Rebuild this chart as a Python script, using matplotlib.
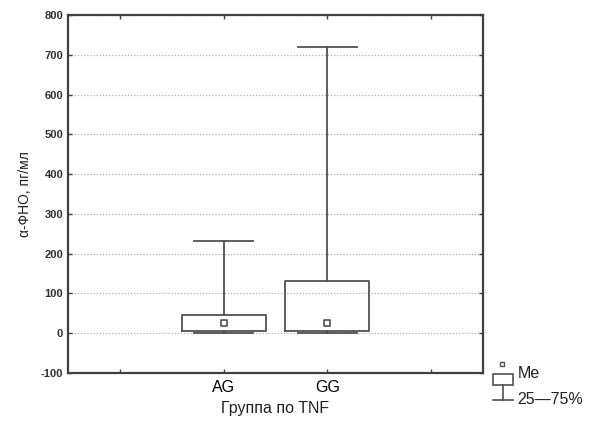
import matplotlib.pyplot as plt
from matplotlib.patches import Rectangle
from matplotlib.lines import Line2D

plt.rcParams['font.family'] = ['Liberation Sans', 'DejaVu Sans']

# data
groups = ['AG', 'GG']
medians = [25, 25]
q1 = [5, 5]
q3 = [45, 132]
mins = [0, 0]
maxs = [233, 720]
tick_labels = ['', 'AG', 'GG', '']
y_ticks = [-100, 0, 100, 200, 300, 400, 500, 600, 700, 800]

W, H = 603, 423
fig = plt.figure(figsize=(W / 100, H / 100), dpi=100)
fig.patch.set_facecolor('white')
ax = fig.add_axes([68 / W, 1 - 373 / H, 415 / W, 358 / H])

positions = [2, 3]
stats = []
for i, g in enumerate(groups):
    stats.append(dict(label=g, med=medians[i], q1=q1[i], q3=q3[i],
                      whislo=mins[i], whishi=maxs[i], fliers=[]))

lc = '#505050'
ax.bxp(stats, positions=positions, widths=0.81, showfliers=False,
       boxprops=dict(color=lc, linewidth=1.3),
       whiskerprops=dict(color=lc, linewidth=1.3),
       capprops=dict(color=lc, linewidth=1.3),
       medianprops=dict(visible=False), capwidths=0.57)
ax.scatter(positions, medians, marker='s', s=22, facecolor='white',
           edgecolor=lc, linewidth=1.2, zorder=3)

ax.set_xlim(0.5, 4.5)
ax.set_ylim(-100, 800)
ax.set_xticks([1, 2, 3, 4])
ax.set_xticklabels(tick_labels, fontsize=11.5)
ax.set_yticks(y_ticks)
ax.set_yticklabels([str(v) for v in y_ticks], fontsize=8, fontweight='bold',
                   color='#303030')
ax.tick_params(direction='in', length=3, width=1, color='#404040',
               top=True, right=True)
ax.tick_params(axis='x', pad=5)
for s in ax.spines.values():
    s.set_color('#404040')
    s.set_linewidth(1.6)
ax.yaxis.grid(True, linestyle=(0, (1, 1.5)), color='#b0b0b0', linewidth=0.9)
ax.set_axisbelow(True)

ax.set_ylabel('α-ФНО, пг/мл', fontsize=10, color='#202020', labelpad=6)
ax.set_xlabel('Группа по TNF', fontsize=11.5, color='#202020', labelpad=4)

# legend drawn in pixel coordinates
def px(x, y):
    return x / W, 1 - y / H

x0, y0 = px(493, 374)
x1, y1 = px(513, 385)
fig.add_artist(Rectangle((x0, y1), x1 - x0, y0 - y1, fill=False,
                         edgecolor=lc, linewidth=1.2, transform=fig.transFigure))
mx, my = px(502, 364)
fig.add_artist(Line2D([mx], [my], marker='s', markersize=3.5, markerfacecolor='white',
                      markeredgecolor=lc, transform=fig.transFigure))
cx, cy = px(503, 385)
cx2, cy2 = px(503, 400)
fig.add_artist(Line2D([cx, cx2], [cy, cy2], color=lc, linewidth=1.2,
                      transform=fig.transFigure))
a, b = px(493, 400)
c, d = px(513, 400)
fig.add_artist(Line2D([a, c], [b, d], color=lc, linewidth=1.2,
                      transform=fig.transFigure))
fig.text(*px(518, 373), 'Me', fontsize=11.5, va='center', ha='left', color='#202020')
fig.text(*px(517, 399), '25—75%', fontsize=11.5, va='center', ha='left', color='#202020')

fig.savefig('out.png', dpi=100)
